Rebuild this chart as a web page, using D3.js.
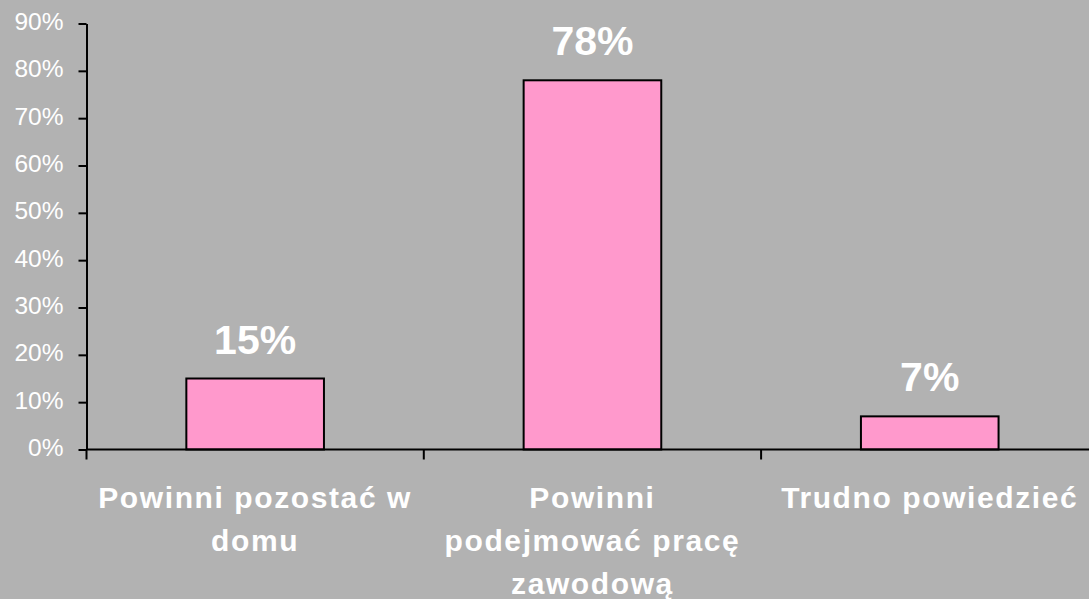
<!DOCTYPE html>
<html>
<head>
<meta charset="utf-8">
<script src="https://cdn.jsdelivr.net/npm/d3@7"></script>
<style>
html,body{margin:0;padding:0;background:#b2b2b2;}
svg{display:block;}
</style>
</head>
<body>
<script>
const categories = ["Powinni pozostać w\ndomu", "Powinni\npodejmować pracę\nzawodową", "Trudno powiedzieć"];
const values = [0.15, 0.78, 0.07];
const valueLabels = ["15%", "78%", "7%"];
const yTicks = [0, 0.1, 0.2, 0.3, 0.4, 0.5, 0.6, 0.7, 0.8, 0.9];

(function () {
const W = 1089, H = 599;
const mLeft = 86.5, mTop = 23.5, mBottom = 449.5, step = 337.3;

const svg = d3.select("body").append("svg").attr("width", W).attr("height", H);
svg.append("rect").attr("width", W).attr("height", H).attr("fill", "#b2b2b2");

const x = d3.scaleBand().domain(categories).range([mLeft, mLeft + step * categories.length]).padding(0);
const y = d3.scaleLinear().domain([0, 0.9]).range([mBottom, mTop]);
const barW = x.bandwidth() * 0.408;

// bars
svg.selectAll("rect.bar").data(categories).join("rect")
  .attr("class", "bar")
  .attr("x", (d) => x(d) + (x.bandwidth() - barW) / 2)
  .attr("y", (d, i) => y(values[i]))
  .attr("width", barW)
  .attr("height", (d, i) => y(0) - y(values[i]))
  .attr("fill", "#ff99cc")
  .attr("stroke", "#000")
  .attr("stroke-width", 2);

// value labels
svg.selectAll("text.val").data(categories).join("text")
  .attr("class", "val")
  .attr("x", (d) => x(d) + x.bandwidth() / 2)
  .attr("y", (d, i) => y(values[i]) - 25)
  .attr("text-anchor", "middle")
  .attr("font-family", "Liberation Sans, Arial, sans-serif")
  .attr("font-weight", "bold")
  .attr("font-size", 41)
  .attr("fill", "#fff")
  .text((d, i) => valueLabels[i]);

// y axis
const yAxis = d3.axisLeft(y).tickValues(yTicks).tickSize(8).tickSizeOuter(0)
  .tickFormat(d3.format(".0%"));
const gy = svg.append("g").attr("transform", `translate(${mLeft},0)`).call(yAxis);
gy.select(".domain").attr("stroke", "#000").attr("stroke-width", 2);
gy.selectAll(".tick line").attr("stroke", "#000").attr("stroke-width", 2);
gy.selectAll(".tick text")
  .attr("x", -23)
  .attr("dy", "0.25em")
  .attr("fill", "#fff")
  .attr("font-family", "Liberation Sans, Arial, sans-serif")
  .attr("font-size", 24.5);

// x axis line
svg.append("line").attr("x1", mLeft).attr("x2", W).attr("y1", mBottom).attr("y2", mBottom)
  .attr("stroke", "#000").attr("stroke-width", 2);
// x ticks at band boundaries
svg.selectAll("line.xt").data(categories).join("line")
  .attr("class", "xt")
  .attr("x1", (d) => x(d)).attr("x2", (d) => x(d))
  .attr("y1", mBottom).attr("y2", mBottom + 10)
  .attr("stroke", "#000").attr("stroke-width", 2);

// category labels
const cl = svg.selectAll("text.cat").data(categories).join("text")
  .attr("class", "cat")
  .attr("text-anchor", "middle")
  .attr("font-family", "Liberation Sans, Arial, sans-serif")
  .attr("font-weight", "bold")
  .attr("font-size", 30)
  .attr("letter-spacing", 1.6)
  .attr("fill", "#fff");
cl.each(function(d) {
  const t = d3.select(this);
  d.split("\n").forEach((line, i) => {
    t.append("tspan").attr("x", x(d) + x.bandwidth() / 2).attr("y", 508 + i * 43).text(line);
  });
});
})();
</script>
</body>
</html>
